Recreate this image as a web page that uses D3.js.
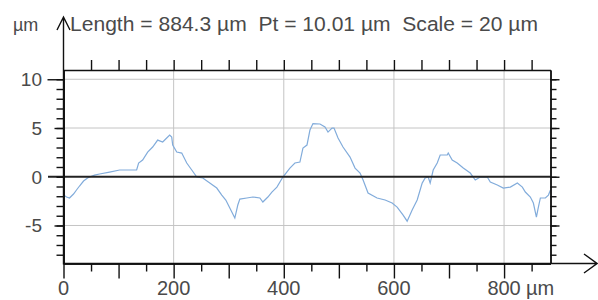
<!DOCTYPE html>
<html>
<head>
<meta charset="utf-8">
<script src="https://cdn.jsdelivr.net/npm/d3@7"></script>
<style>
  body { margin: 0; background: #fff; }
  text { font-family: "Liberation Sans", Arial, sans-serif; fill: #4a4a4a; }
</style>
</head>
<body>
<div id="chart"></div>
<script>
// profile position (µm) and height (µm)
const positions = [0, 5.5, 10.9, 18.2, 23.6, 29.1, 36.4, 43.7, 47.3, 56.4, 65.5, 83.7, 101.9, 125.5, 132.8,
  136.4, 143.7, 152.8, 161.9, 171.0, 180.1, 187.4, 192.8, 196.5, 198.3, 205.6, 214.7, 223.8, 232.9, 242.0,
  252.9, 265.6, 278.3, 287.4, 294.7, 302.0, 311.1, 316.5, 320.2, 332.9, 343.8, 356.6, 362.0, 371.1, 378.4,
  387.5, 398.4, 411.1, 420.2, 429.3, 434.8, 442.1, 447.5, 453.0, 465.7, 474.8, 480.3, 487.5, 491.2, 498.5,
  507.5, 520.3, 529.4, 538.5, 544.0, 553.0, 569.4, 584.0, 596.7, 605.8, 616.7, 624.0, 633.1, 642.2, 651.3,
  656.7, 662.2, 665.8, 671.3, 678.6, 684.0, 696.8, 698.6, 705.8, 714.9, 725.9, 738.6, 747.7, 756.8, 769.5,
  775.0, 787.7, 798.6, 811.4, 824.1, 833.2, 838.6, 847.7, 853.2, 858.7, 862.3, 865.9, 875.0, 880.5, 884.3];
const heights = [-1.88, -2.08, -2.18, -1.77, -1.36, -0.95, -0.44, -0.13, -0.03, 0.17, 0.28, 0.48, 0.69, 0.69, 0.69,
  1.41, 1.71, 2.53, 3.05, 3.76, 3.56, 3.97, 4.28, 4.07, 3.25, 2.53, 2.43, 1.41, 0.69, -0.03,
  -0.13, -0.65, -1.16, -1.88, -2.39, -3.21, -4.24, -2.90, -2.29, -2.18, -2.08, -2.18, -2.59, -2.08, -1.57,
  -1.06, -0.03, 0.89, 1.41, 1.51, 2.94, 3.25, 4.79, 5.45, 5.41, 5.10, 4.58, 4.99, 4.99, 3.97,
  3.05, 2.02, 0.89, 0.38, -0.34, -1.67, -2.18, -2.39, -2.70, -3.11, -3.93, -4.56, -3.42, -2.39, -0.65,
  -0.13, -0.03, -0.65, 0.69, 1.41, 2.23, 2.23, 2.43, 1.71, 1.41, 0.89, 0.38, -0.34, -0.03, -0.03,
  -0.54, -0.85, -1.16, -1.06, -0.65, -1.06, -1.57, -2.08, -2.70, -4.14, -3.11, -2.18, -2.18, -1.88, -1.36];

const xLabels = [0, 200, 400, 600, 800];
const yLabels = [-5, 0, 5, 10];
const title = 'Length = 884.3 µm  Pt = 10.01 µm  Scale = 20 µm';
const unit = 'µm';

const width = 598;
const height = 300;
const plotLeft = 63.5;
const plotRight = 550.5;
const plotTop = 70;
const plotBottom = 263.5;

const x = d3.scaleLinear().domain([0, 884.3]).range([plotLeft, plotRight]);
const y = d3.scaleLinear().domain([-8.9, 10.95]).range([plotBottom, plotTop]);

const svg = d3
  .select('#chart')
  .append('svg')
  .attr('width', width)
  .attr('height', height);

// grid
svg
  .append('g')
  .selectAll('line')
  .data([200, 400, 600, 800])
  .enter()
  .append('line')
  .attr('x1', d => x(d))
  .attr('x2', d => x(d))
  .attr('y1', plotTop)
  .attr('y2', plotBottom)
  .attr('stroke', '#c4c4c4');

svg
  .append('g')
  .selectAll('line')
  .data([-5, 5, 10])
  .enter()
  .append('line')
  .attr('x1', plotLeft)
  .attr('x2', plotRight)
  .attr('y1', d => y(d))
  .attr('y2', d => y(d))
  .attr('stroke', '#c4c4c4');

// profile
const line = d3
  .line()
  .x(function(d, i) {
    return x(positions[i]);
  })
  .y(function(d) {
    return y(d);
  });

svg
  .append('path')
  .datum(heights)
  .attr('d', line)
  .attr('fill', 'none')
  .attr('stroke', '#82acdb')
  .attr('stroke-width', 1.2);

// zero line
svg
  .append('line')
  .attr('x1', 48)
  .attr('x2', plotRight)
  .attr('y1', y(0))
  .attr('y2', y(0))
  .attr('stroke', '#222')
  .attr('stroke-width', 2);

function styleAxis(g) {
  g.selectAll('path, line').attr('stroke', '#111').attr('stroke-width', 1.4);
  g.selectAll('text').remove();
}

// top ticks
svg
  .append('g')
  .attr('transform', `translate(0,${plotTop})`)
  .call(d3.axisTop(x).tickValues(d3.range(50, 851, 50)).tickSize(10).tickSizeOuter(0))
  .call(styleAxis);

// bottom ticks: short and long
svg
  .append('g')
  .attr('transform', `translate(0,${plotBottom})`)
  .call(d3.axisBottom(x).tickValues(d3.range(50, 851, 100)).tickSize(8).tickSizeOuter(0))
  .call(styleAxis);
svg
  .append('g')
  .attr('transform', `translate(0,${plotBottom})`)
  .call(d3.axisBottom(x).tickValues(d3.range(0, 851, 100)).tickSize(15).tickSizeOuter(0))
  .call(styleAxis);

// left ticks
svg
  .append('g')
  .attr('transform', `translate(${plotLeft},0)`)
  .call(d3.axisLeft(y).tickValues(d3.range(-8, 11)).tickSize(7).tickSizeOuter(0))
  .call(styleAxis);
svg
  .append('g')
  .attr('transform', `translate(${plotLeft},0)`)
  .call(d3.axisLeft(y).tickValues([-5, 5]).tickSize(9).tickSizeOuter(0))
  .call(styleAxis);
svg
  .append('g')
  .attr('transform', `translate(${plotLeft},0)`)
  .call(d3.axisLeft(y).tickValues([10]).tickSize(16).tickSizeOuter(0))
  .call(styleAxis);

// right ticks
svg
  .append('g')
  .attr('transform', `translate(${plotRight},0)`)
  .call(d3.axisRight(y).tickValues(d3.range(-8, 11)).tickSize(6).tickSizeOuter(0))
  .call(styleAxis);
svg
  .append('g')
  .attr('transform', `translate(${plotRight},0)`)
  .call(d3.axisRight(y).tickValues([-5, 0, 5, 10]).tickSize(9).tickSizeOuter(0))
  .call(styleAxis);

// arrows
const axes = svg
  .append('g')
  .attr('fill', 'none')
  .attr('stroke', '#111')
  .attr('stroke-width', 1.4);
axes.append('path').attr('d', `M${plotLeft},${plotBottom + 1}V17M57,30L${plotLeft},17L70,30`);
axes.append('path').attr('d', `M${plotLeft},${plotBottom}H597M584,254L597,${plotBottom}L584,273`);

// labels
svg
  .append('g')
  .selectAll('text')
  .data(yLabels)
  .enter()
  .append('text')
  .attr('x', 42)
  .attr('y', d => y(d))
  .attr('dy', '0.36em')
  .attr('text-anchor', 'end')
  .style('font-size', '19px')
  .text(d => (d < 0 ? '-' + Math.abs(d) : d));

svg
  .append('g')
  .selectAll('text')
  .data(xLabels)
  .enter()
  .append('text')
  .attr('x', d => x(d))
  .attr('y', 295)
  .attr('text-anchor', 'middle')
  .style('font-size', '20px')
  .text(d => d);

svg
  .append('text')
  .attr('x', x(800) + 22)
  .attr('y', 295)
  .style('font-size', '20px')
  .text(unit);

svg
  .append('text')
  .attr('x', 13)
  .attr('y', 31)
  .style('font-size', '18px')
  .text(unit);

svg
  .append('text')
  .attr('x', 70)
  .attr('y', 31)
  .attr('textLength', 468)
  .attr('lengthAdjust', 'spacingAndGlyphs')
  .style('font-size', '20.5px')
  .style('white-space', 'pre')
  .text(title);
</script>
</body>
</html>
